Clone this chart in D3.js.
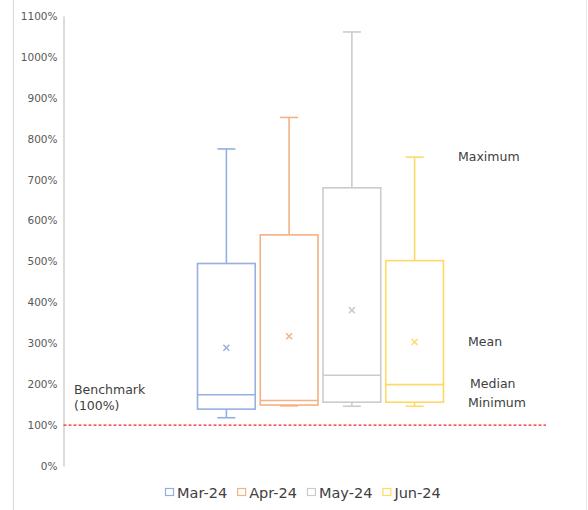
<!DOCTYPE html>
<html><head><meta charset="utf-8">
<script src="https://cdn.jsdelivr.net/npm/d3@7"></script>
<style>body{margin:0;background:#fff}svg{display:block}</style>
</head><body><svg id="c" width="588" height="510"></svg>
<script>
const series = ["Mar-24","Apr-24","May-24","Jun-24"];
const colors = ["#95afe0","#f4b183","#cccccc","#ffd966"];
const minV = [118,147,146,146];
const q1V = [139,149,156,156];
const medV = [174,160,222,199];
const q3V = [495,565,680,502];
const maxV = [775,852,1061,755];
const meanV = [289,317,381,303];
const yTicks = [0,100,200,300,400,500,600,700,800,900,1000,1100];
const benchmark = 100;
const annotations = [
  {t:"Maximum", v:755, x:458},
  {t:"Mean", v:303, x:468},
  {t:"Median", v:200, x:470},
  {t:"Minimum", v:155, x:468}
];

const svg = d3.select("#c");
const font = "'DejaVu Sans', sans-serif";
const y = d3.scaleLinear().domain([0,1100]).range([466,16]);
const x = d3.scaleBand().domain(series).range([195,446]).paddingInner(0.08).paddingOuter(0.04);

// frame lines
svg.append("line").attr("x1",13.5).attr("x2",13.5).attr("y1",0).attr("y2",510).attr("stroke","#d9d9d9");
svg.append("line").attr("x1",586.5).attr("x2",586.5).attr("y1",0).attr("y2",510).attr("stroke","#e6e6e6");

// y axis
const ax = svg.append("g").attr("transform","translate(63.5,0)")
  .call(d3.axisLeft(y).tickValues(yTicks).tickFormat(d=>d+"%").tickSize(0).tickPadding(6));
ax.select(".domain").attr("stroke","#d0d0d0").attr("stroke-width",1.5);
ax.selectAll("text").attr("font-family",font).attr("font-size",10.5).attr("fill","#595959");

// boxes
const g = svg.append("g");
series.forEach((s,i)=>{
  const x0 = x(s), w = x.bandwidth(), cx = x0 + w/2, c = colors[i], cap = 18;
  const sg = g.append("g").attr("stroke",c).attr("stroke-width",1.6).attr("fill","none");
  sg.append("line").attr("x1",cx).attr("x2",cx).attr("y1",y(maxV[i])).attr("y2",y(q3V[i]));
  sg.append("line").attr("x1",cx).attr("x2",cx).attr("y1",y(q1V[i])).attr("y2",y(minV[i]));
  sg.append("line").attr("x1",cx-cap/2).attr("x2",cx+cap/2).attr("y1",y(maxV[i])).attr("y2",y(maxV[i]));
  sg.append("line").attr("x1",cx-cap/2).attr("x2",cx+cap/2).attr("y1",y(minV[i])).attr("y2",y(minV[i]));
  sg.append("rect").attr("x",x0).attr("width",w).attr("y",y(q3V[i])).attr("height",y(q1V[i])-y(q3V[i]));
  sg.append("line").attr("x1",x0).attr("x2",x0+w).attr("y1",y(medV[i])).attr("y2",y(medV[i]));
  const my = y(meanV[i]), m = 3;
  sg.append("path").attr("d",`M${cx-m},${my-m}L${cx+m},${my+m}M${cx-m},${my+m}L${cx+m},${my-m}`).attr("stroke-width",1.5);
});

// benchmark line
svg.append("line").attr("x1",63.5).attr("x2",546).attr("y1",y(benchmark)).attr("y2",y(benchmark))
  .attr("stroke","#ff2020").attr("stroke-width",1.3).attr("stroke-dasharray","3,2");

// texts
const tg = svg.append("g").attr("font-family",font).attr("font-size",12.5).attr("fill","#404040");
tg.append("text").attr("x",74).attr("y",394).text("Benchmark");
tg.append("text").attr("x",74).attr("y",410).text("(100%)");
annotations.forEach(a=>{
  tg.append("text").attr("x",a.x).attr("y",y(a.v)+4).text(a.t);
});

// legend
const lg = svg.append("g").attr("font-family",font).attr("font-size",14.5).attr("fill","#404040");
let lx = 165;
series.forEach((s,i)=>{
  lg.append("rect").attr("x",lx+0.5).attr("y",488.5).attr("width",8).attr("height",7).attr("fill","none").attr("stroke",colors[i]).attr("stroke-width",1.2);
  const t = lg.append("text").attr("x",lx+12).attr("y",497.5).text(s);
  lx += 12 + t.node().getComputedTextLength() + 10;
});
</script></body></html>
